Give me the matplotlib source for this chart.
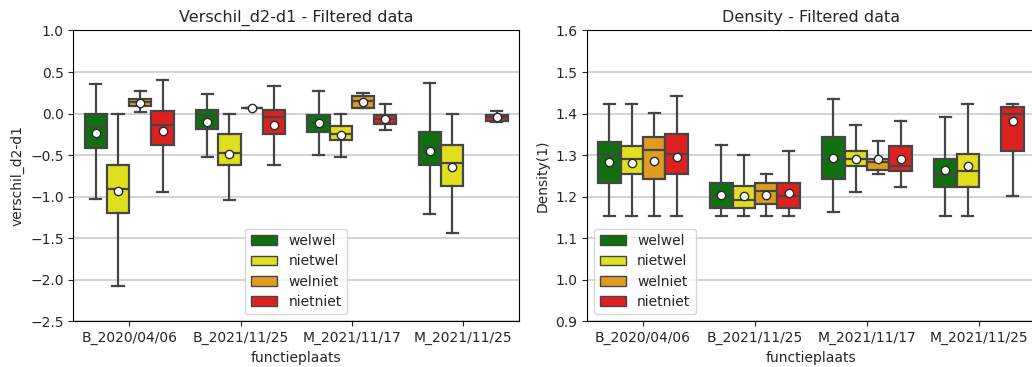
import numpy as np
import matplotlib
matplotlib.use("Agg")
import matplotlib.pyplot as plt
from matplotlib.patches import Patch

plaatsen = ['B_2020/04/06', 'B_2021/11/25', 'M_2021/11/17', 'M_2021/11/25']
groepen = ['welwel', 'nietwel', 'welniet', 'nietniet']
kleuren = ['#107010', '#dfdf20', '#df9c20', '#df2020']

# box statistics per group, one entry per functieplaats:
# (whisker low, q1, median, q3, whisker high, mean); None = no data
verschil = {
    'welwel': [(-1.025, -0.41, -0.165, 0.0, 0.36, -0.23),
               (-0.52, -0.185, -0.015, 0.04, 0.23, -0.10),
               (-0.495, -0.22, -0.115, -0.015, 0.27, -0.115),
               (-1.21, -0.624, -0.41, -0.217, 0.366, -0.447)],
    'nietwel': [(-2.07, -1.195, -0.91, -0.62, 0.0, -0.935),
                (-1.04, -0.625, -0.48, -0.25, 0.0, -0.485),
                (-0.523, -0.318, -0.25, -0.153, 0.0, -0.26),
                (-1.436, -0.873, -0.60, -0.378, 0.0, -0.644)],
    'welniet': [(0.02, 0.095, 0.135, 0.175, 0.27, 0.13),
                (0.068, 0.068, 0.068, 0.068, 0.068, 0.066),
                (0.072, 0.072, 0.153, 0.217, 0.253, 0.145),
                None],
    'nietniet': [(-0.94, -0.375, -0.135, 0.025, 0.40, -0.21),
                 (-0.62, -0.24, -0.04, 0.045, 0.33, -0.135),
                 (-0.20, -0.125, -0.064, -0.016, 0.12, -0.064),
                 (-0.097, -0.085, -0.044, -0.012, 0.025, -0.046)],
}

density = {
    'welwel': [(1.153, 1.233, 1.302, 1.332, 1.424, 1.283),
               (1.153, 1.172, 1.201, 1.233, 1.324, 1.205),
               (1.163, 1.243, 1.291, 1.343, 1.434, 1.292),
               (1.153, 1.223, 1.253, 1.291, 1.391, 1.264)],
    'nietwel': [(1.153, 1.254, 1.291, 1.323, 1.424, 1.280),
                (1.153, 1.173, 1.191, 1.225, 1.301, 1.2015),
                (1.211, 1.273, 1.291, 1.311, 1.372, 1.290),
                (1.153, 1.223, 1.262, 1.302, 1.424, 1.274)],
    'welniet': [(1.153, 1.243, 1.312, 1.343, 1.402, 1.286),
                (1.153, 1.183, 1.213, 1.233, 1.254, 1.205),
                (1.254, 1.263, 1.283, 1.290, 1.333, 1.290),
                None],
    'nietniet': [(1.153, 1.254, 1.302, 1.352, 1.443, 1.296),
                 (1.153, 1.173, 1.201, 1.233, 1.311, 1.209),
                 (1.224, 1.262, 1.274, 1.323, 1.382, 1.290),
                 (1.201, 1.310, 1.400, 1.416, 1.424, 1.383)],
}

lijn = '#454545'
tekst = '#262626'
plt.rcParams['font.size'] = 10
plt.rcParams['text.color'] = tekst
plt.rcParams['axes.labelcolor'] = tekst
plt.rcParams['xtick.color'] = tekst
plt.rcParams['ytick.color'] = tekst


def teken(ax, data, titel, ylabel, ylim, yticks, legend_loc):
    offsets = np.array([-0.3, -0.1, 0.1, 0.3])
    for g, groep in enumerate(groepen):
        stats, pos = [], []
        for i, s in enumerate(data[groep]):
            if s is None:
                continue
            lo, q1, med, q3, hi, mean = s
            stats.append(dict(whislo=lo, q1=q1, med=med, q3=q3, whishi=hi,
                              mean=mean, fliers=[]))
            pos.append(i + offsets[g])
        ax.bxp(stats, positions=pos, widths=0.2, patch_artist=True,
               showmeans=True, manage_ticks=False,
               boxprops=dict(facecolor=kleuren[g], edgecolor=lijn, linewidth=1.6),
               whiskerprops=dict(color=lijn, linewidth=1.6),
               capprops=dict(color=lijn, linewidth=1.6),
               medianprops=dict(color=lijn, linewidth=1.6),
               meanprops=dict(marker='o', markerfacecolor='white',
                              markeredgecolor='#2a2a2a', markersize=6,
                              markeredgewidth=1.0))
    ax.set_xlim(-0.5, len(plaatsen) - 0.5)
    ax.set_xticks(range(len(plaatsen)))
    ax.set_xticklabels(plaatsen)
    ax.set_ylim(*ylim)
    ax.set_yticks(yticks)
    ax.yaxis.grid(True, color='#cccccc', linewidth=1.2)
    ax.set_axisbelow(True)
    ax.set_title(titel, fontsize=11.5)
    ax.set_xlabel('functieplaats')
    ax.set_ylabel(ylabel)
    handles = [Patch(facecolor=k, edgecolor=lijn, linewidth=1.0, label=g)
               for g, k in zip(groepen, kleuren)]
    ax.legend(handles=handles, loc=legend_loc, fontsize=10,
              handlelength=1.9, handleheight=0.7, labelspacing=0.45)


fig = plt.figure(figsize=(10.32, 3.67), dpi=100)
ax1 = fig.add_axes([0.0712, 0.1245, 0.4317, 0.7925])
ax2 = fig.add_axes([0.5688, 0.1245, 0.4341, 0.7925])

teken(ax1, verschil, 'Verschil_d2-d1 - Filtered data', 'verschil_d2-d1',
      (-2.5, 1.0), np.arange(-2.5, 1.01, 0.5), 'lower center')
teken(ax2, density, 'Density - Filtered data', 'Density(1)',
      (0.9, 1.6), np.arange(0.9, 1.61, 0.1), 'lower left')
ax2.set_yticklabels(['%.1f' % t for t in np.arange(0.9, 1.61, 0.1)])

fig.savefig('out.png', dpi=100)
